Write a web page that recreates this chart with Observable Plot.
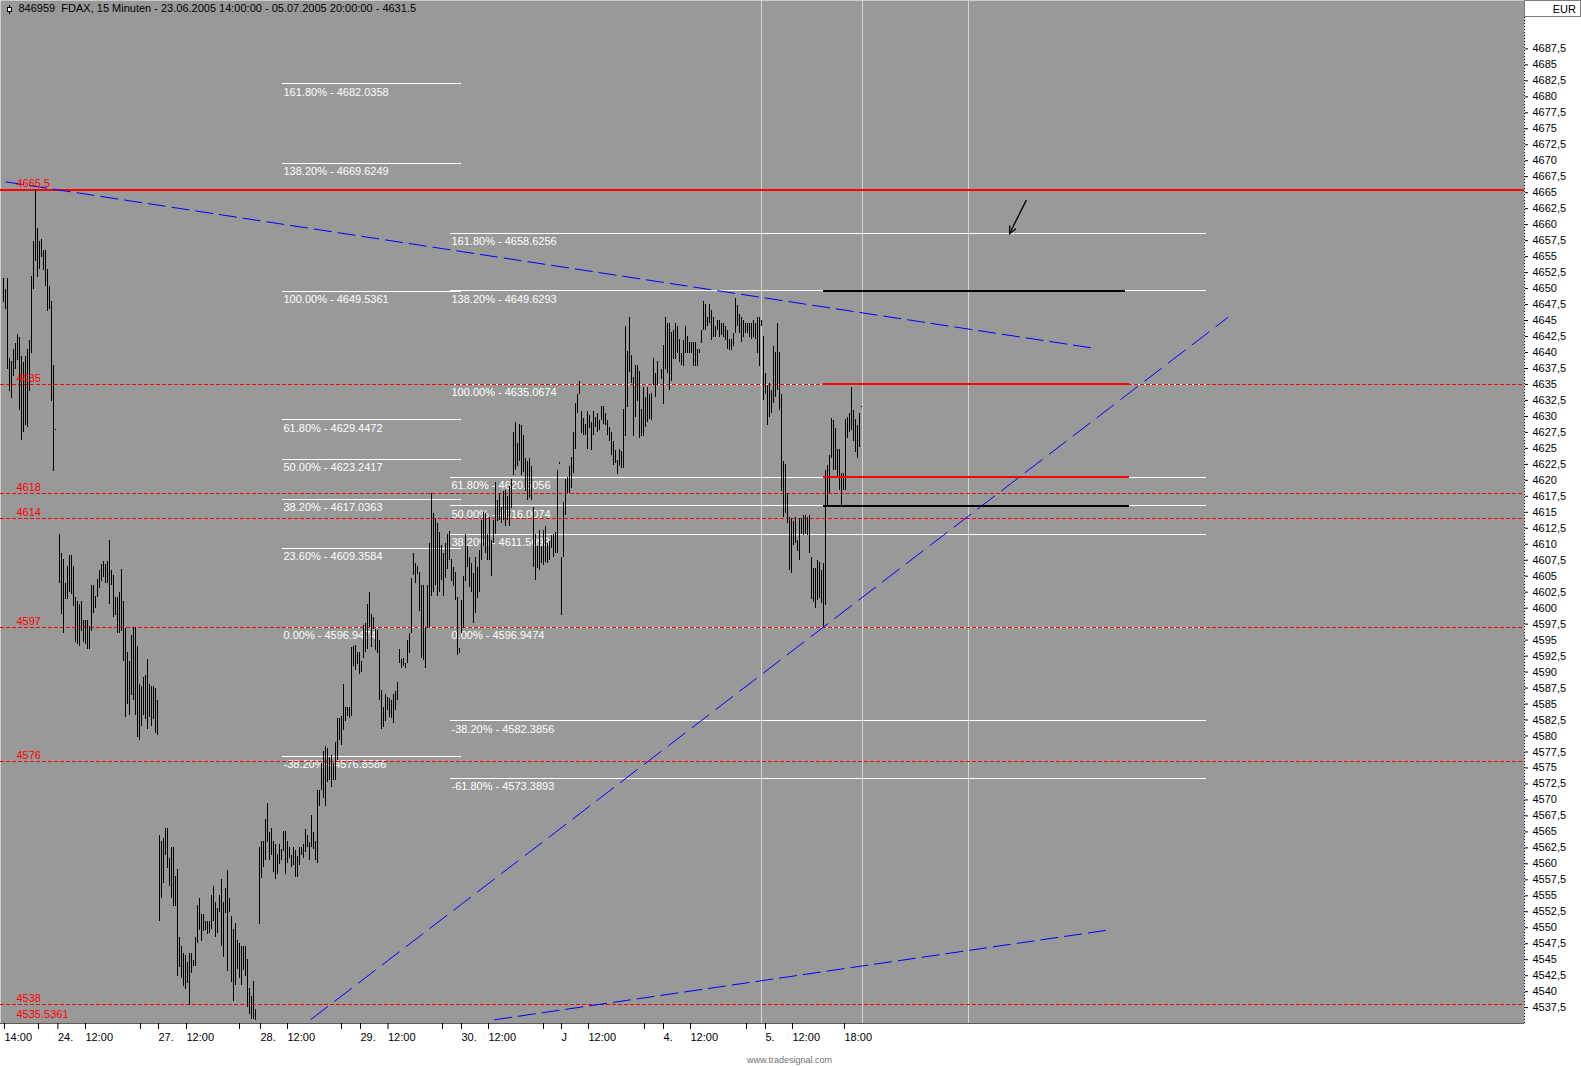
<!DOCTYPE html>
<html><head><meta charset="utf-8">
<script src="https://cdn.jsdelivr.net/npm/d3@7"></script>
<script src="https://cdn.jsdelivr.net/npm/@observablehq/plot@0.6"></script>
<style>
html,body{margin:0;padding:0;background:#fff;}
#chart svg{display:block}
</style></head><body><div id="chart"></div>
<script>
// ---- 15-minute bars (high / low) per trading day; slot = bar index on the time axis ----
const dayStarts = [0, 28, 78, 128, 178, 228, 278, 329, 380]; // 23.6, 24.6, 27.6, 28.6, 29.6, 30.6, 1.7, 4.7, 5.7
const hi23 = [4651.5,4649.9,4651.5,4639.0,4638.6,4640.5,4641.4,4642.8,4642.3,4639.4,4638.5,4639.4,4640.5,4641.9,4651.9,4657.4,4665.5,4659.4,4657.4,4657.6,4656.0,4655.9,4653.0,4650.3,4647.9,4637.9,4628.0];
const lo23 = [4647.8,4646.8,4637.3,4633.9,4632.8,4636.3,4637.3,4638.8,4630.9,4626.3,4627.5,4628.6,4628.3,4633.9,4639.8,4649.9,4654.3,4651.8,4653.0,4654.8,4652.9,4650.3,4646.4,4646.8,4632.4,4621.4,4627.8];
const hi24 = [4611.6,4608.6,4607.6,4603.9,4606.5,4608.2,4608.2,4606.5,4601.7,4601.1,4600.5,4601.1,4598.0,4598.0,4598.0,4597.1,4603.6,4603.6,4601.9,4604.5,4605.9,4606.8,4607.3,4606.8,4607.3,4610.6,4605.9,4605.1,4601.7,4601.7,4602.5,4606.0,4601.1,4596.8,4593.1,4591.7,4595.7,4596.9,4596.9,4594.0,4588.0,4587.7,4589.2,4589.5,4592.0,4588.0,4587.7,4587.7,4587.5,4585.5];
const lo24 = [4603.9,4599.0,4596.0,4601.4,4601.4,4602.5,4602.2,4600.2,4594.6,4594.3,4594.0,4596.3,4594.6,4594.3,4593.5,4593.5,4596.3,4599.1,4600.0,4601.7,4603.1,4604.2,4604.8,4603.9,4603.9,4600.5,4603.6,4598.5,4598.8,4596.0,4596.0,4596.3,4591.7,4582.9,4584.9,4583.2,4586.3,4585.5,4583.2,4579.8,4579.3,4581.5,4583.2,4582.6,4581.0,4582.9,4581.5,4582.6,4580.4,4580.1];
const hi27 = [4564.5,4563.5,4563.9,4565.5,4565.5,4560.9,4562.5,4562.5,4558.0,4559.1,4548.5,4547.1,4546.0,4545.7,4544.5,4546.0,4546.0,4544.9,4548.4,4553.5,4554.5,4552.0,4552.0,4550.9,4551.0,4551.0,4555.0,4556.5,4554.0,4553.0,4555.0,4557.5,4553.9,4556.1,4559.0,4554.6,4551.7,4549.8,4550.6,4548.0,4547.6,4547.1,4547.1,4547.0,4545.0,4540.5,4539.2,4541.6,4537.2];
const lo27 = [4550.9,4554.5,4557.0,4561.3,4559.2,4556.4,4554.5,4553.3,4553.3,4542.4,4543.8,4542.0,4540.8,4540.4,4541.2,4537.9,4542.9,4543.9,4543.9,4547.5,4549.6,4547.9,4549.4,4549.5,4548.9,4549.1,4549.7,4550.9,4548.4,4549.1,4552.4,4547.0,4545.4,4552.2,4543.1,4552.4,4541.5,4538.4,4541.0,4543.4,4542.0,4541.0,4543.3,4542.4,4537.5,4536.5,4535.6,4535.6,4535.5];
const hi28 = [4562.5,4563.5,4563.5,4567.0,4569.5,4564.9,4565.5,4563.5,4563.1,4561.4,4563.1,4562.2,4565.1,4565.1,4563.5,4562.5,4561.3,4562.6,4562.1,4561.1,4562.5,4562.5,4563.1,4565.3,4564.5,4563.4,4567.6,4564.9,4563.5,4571.5,4571.5,4575.7,4577.5,4578.3,4578.0,4576.7,4577.0,4575.7,4579.0,4582.7,4582.7,4583.0,4588.1,4584.4,4584.5,4584.5,4593.9,4594.0,4594.2,4593.1];
const lo28 = [4550.5,4557.7,4559.5,4560.5,4563.4,4560.5,4561.3,4558.7,4557.5,4558.4,4559.9,4560.5,4561.9,4558.4,4560.0,4560.9,4559.5,4559.7,4557.9,4557.9,4559.7,4561.3,4560.9,4561.8,4562.5,4560.5,4562.6,4562.3,4560.5,4560.0,4568.9,4571.5,4570.2,4568.9,4572.8,4573.0,4572.0,4573.0,4573.0,4576.2,4579.3,4578.5,4580.9,4582.3,4583.0,4582.7,4583.0,4590.9,4590.3,4591.2];
const hi29 = [4593.0,4591.6,4597.3,4597.6,4600.6,4602.4,4599.0,4598.6,4596.6,4596.5,4595.0,4587.1,4584.5,4586.5,4586.1,4585.8,4585.6,4586.5,4586.9,4588.4,4593.6,4591.9,4592.1,4591.3,4595.0,4596.0,4604.6,4608.5,4607.0,4606.5,4605.6,4603.6,4603.6,4597.0,4603.6,4610.1,4618.0,4614.8,4614.1,4613.2,4611.9,4609.8,4608.5,4610.1,4611.6,4612.0,4607.6,4606.4,4605.6,4601.7];
const lo29 = [4589.6,4590.0,4592.1,4593.1,4593.6,4597.0,4593.9,4596.6,4593.4,4592.9,4585.6,4581.0,4581.4,4582.3,4584.0,4582.9,4582.7,4581.9,4584.0,4585.6,4591.3,4590.5,4590.8,4590.5,4591.4,4592.9,4596.0,4605.1,4603.8,4605.3,4599.4,4592.1,4591.8,4590.5,4596.8,4597.0,4601.8,4602.5,4603.6,4601.8,4602.4,4604.3,4601.8,4604.6,4606.0,4607.5,4604.1,4603.4,4601.2,4592.6];
const hi30 = [4593.7,4601.2,4604.9,4611.6,4609.6,4608.0,4607.0,4605.4,4608.0,4606.4,4609.0,4613.7,4615.0,4614.8,4611.6,4614.2,4610.6,4613.7,4619.7,4616.9,4617.9,4615.8,4618.2,4618.4,4617.4,4619.0,4620.2,4627.5,4629.1,4625.7,4628.8,4628.6,4627.0,4623.4,4622.9,4623.4,4622.1,4615.8,4611.6,4609.6,4612.2,4609.6,4612.2,4612.7,4610.1,4610.4,4611.4,4611.6,4611.9,4621.5];
const lo30 = [4592.9,4596.0,4596.8,4604.1,4606.4,4603.3,4602.5,4597.6,4599.1,4601.5,4602.5,4607.5,4609.6,4608.5,4607.5,4607.5,4604.9,4610.1,4611.6,4613.5,4613.7,4613.2,4613.7,4612.7,4613.7,4612.7,4615.6,4620.8,4621.6,4622.1,4622.9,4620.8,4621.3,4618.2,4616.9,4617.1,4616.9,4606.4,4604.3,4606.2,4605.9,4607.0,4606.7,4607.2,4607.0,4607.5,4609.3,4608.0,4608.5,4608.5];
const hiJ = [4622.8,4608.0,4616.6,4620.2,4620.5,4622.1,4623.6,4627.5,4632.0,4633.5,4635.5,4630.7,4629.6,4628.8,4630.7,4630.2,4629.1,4630.7,4629.9,4630.4,4629.4,4631.5,4631.5,4630.4,4629.4,4628.3,4627.5,4626.1,4624.6,4623.1,4624.9,4624.5,4631.1,4644.1,4640.1,4645.5,4639.5,4636.1,4637.9,4637.9,4637.1,4631.1,4634.6,4633.0,4634.6,4633.5,4633.6,4639.0,4636.7,4638.6];
const loJ = [4622.4,4598.9,4608.0,4614.5,4617.9,4617.9,4618.7,4621.0,4624.9,4630.4,4633.5,4627.3,4627.0,4627.0,4624.9,4628.1,4624.7,4627.0,4628.3,4627.5,4627.8,4629.4,4628.8,4628.6,4627.0,4626.0,4623.9,4622.3,4622.6,4620.9,4622.1,4621.9,4621.9,4626.9,4631.4,4636.9,4635.1,4626.9,4629.9,4632.4,4626.5,4626.9,4626.9,4628.3,4629.0,4629.5,4629.4,4634.8,4632.9,4634.8];
const hi4 = [4637.4,4641.1,4645.5,4644.6,4644.6,4643.2,4643.5,4644.5,4644.1,4642.0,4639.9,4641.9,4644.1,4642.5,4641.6,4641.6,4641.6,4641.6,4640.5,4640.5,4643.5,4647.9,4647.5,4645.5,4647.5,4646.5,4645.5,4644.1,4645.0,4645.0,4644.6,4644.6,4644.1,4643.5,4642.0,4642.0,4643.0,4648.4,4647.3,4646.0,4645.5,4645.0,4644.6,4644.6,4644.6,4644.6,4645.0,4644.6,4645.5,4645.5,4645.0];
const lo4 = [4635.7,4631.9,4637.3,4636.7,4634.0,4635.4,4638.9,4638.9,4639.9,4638.5,4637.9,4637.8,4639.9,4639.9,4639.9,4639.9,4637.8,4637.8,4637.8,4639.9,4641.4,4643.4,4643.5,4644.0,4644.5,4641.9,4642.4,4642.4,4643.4,4642.4,4642.7,4642.4,4641.9,4640.4,4640.3,4640.3,4640.9,4642.9,4644.0,4642.9,4641.5,4642.4,4642.9,4642.9,4642.4,4642.0,4642.4,4642.0,4639.9,4637.8,4644.0];
const hi5 = [4642.5,4636.7,4634.9,4635.1,4634.1,4641.0,4640.0,4644.5,4640.0,4633.5,4623.0,4622.4,4617.9,4614.2,4614.0,4613.5,4614.2,4610.6,4614.0,4614.0,4614.5,4614.5,4614.2,4614.5,4608.0,4606.2,4606.2,4607.5,4607.2,4605.9,4607.0,4621.5,4622.3,4623.9,4629.6,4629.4,4628.1,4624.9,4624.9,4621.0,4621.0,4629.5,4629.9,4630.4,4634.5,4631.0,4629.5,4628.6,4630.5,4631.6];
const lo5 = [4632.5,4633.5,4628.5,4629.9,4630.4,4632.0,4633.0,4634.0,4630.9,4618.2,4614.2,4614.8,4613.2,4605.9,4605.5,4609.8,4610.1,4608.8,4607.5,4611.6,4611.4,4611.5,4611.4,4608.5,4601.3,4600.9,4599.9,4601.2,4601.5,4600.7,4597.0,4600.4,4616.1,4617.9,4623.4,4621.5,4621.5,4620.5,4618.4,4616.1,4618.4,4618.4,4626.5,4627.5,4627.8,4626.0,4624.4,4623.4,4625.2,4631.4];

// ---- horizontal support / resistance levels ----
const solidLevels = [4665.5];
const dashedLevels = [4635, 4618, 4614, 4597, 4576, 4538];
const levelLabels = ["4665.5", "4635", "4618", "4614", "4597", "4576", "4538", "4535.5361"];
const levelLabelValues = [4665.5, 4635, 4618, 4614, 4597, 4576, 4538, 4535.5361];

// ---- Fibonacci sets ----
const fibLeftPct = [161.8, 138.2, 100, 61.8, 50, 38.2, 23.6, 0, -38.2];
const fibLeftVal = [4682.0358, 4669.6249, 4649.5361, 4629.4472, 4623.2417, 4617.0363, 4609.3584, 4596.9474, 4576.8586];
const fibLeftSpan = [139.5, 228.85];
const fibRightPct = [161.8, 138.2, 100, 61.8, 50, 38.2, 0, -38.2, -61.8];
const fibRightVal = [4658.6256, 4649.6293, 4635.0674, 4620.5056, 4616.0074, 4611.5093, 4596.9474, 4582.3856, 4573.3893];
const fibRightSpan = [223.5, 601.5];

// ---- thick target lines (value, colour, end slot) ----
const targetVal = [4649.6293, 4635.0674, 4620.5056, 4616.0074];
const targetColor = ["black", "red", "red", "black"];
const targetStart = 409.75;
const targetEnd = [561, 563, 563, 563];

// ---- trend lines (slot, price): falling resistance, rising support, lower support ----
const trendX1 = [1, 153.5, 245.35];
const trendY1 = [4666.7, 4535.6, 4535.6];
const trendX2 = [543.85, 612.35, 551.5];
const trendY2 = [4640.73, 4645.52, 4549.6];
const trendDash = ["18,6", "22,8", "18,6"];

// ---- vertical marker lines, arrow ----
const vLineSlots = [379.15, 429.65, 482.5];
const arrowFrom = [511.35, 4663.8];
const arrowTo = [503, 4658.57];

// ---- axes ----
const xTickSlots = [0, 17, 26.7, 40.5, 68, 77, 91, 117.5, 128, 141.5, 168.5, 178, 191.75, 219, 228.5, 242, 269.5, 278.5, 292, 320, 329.5, 343, 371, 380.5, 394, 420];
const xTickLabels = ["14:00", "", "24.", "12:00", "", "27.", "12:00", "", "28.", "12:00", "", "29.", "12:00", "", "30.", "12:00", "", "J", "12:00", "", "4.", "12:00", "", "5.", "12:00", "18:00"];
const yTickValues = [4537.5,4540,4542.5,4545,4547.5,4550,4552.5,4555,4557.5,4560,4562.5,4565,4567.5,4570,4572.5,4575,4577.5,4580,4582.5,4585,4587.5,4590,4592.5,4595,4597.5,4600,4602.5,4605,4607.5,4610,4612.5,4615,4617.5,4620,4622.5,4625,4627.5,4630,4632.5,4635,4637.5,4640,4642.5,4645,4647.5,4650,4652.5,4655,4657.5,4660,4662.5,4665,4667.5,4670,4672.5,4675,4677.5,4680,4682.5,4685,4687.5];

const titleText = "846959\u00a0 FDAX, 15 Minuten - 23.06.2005 14:00:00 - 05.07.2005 20:00:00 - 4631.5";
const footerText = "www.tradesignal.com";

// ---- build tables ----
const highs = [hi23, hi24, hi27, hi28, hi29, hi30, hiJ, hi4, hi5];
const lows = [lo23, lo24, lo27, lo28, lo29, lo30, loJ, lo4, lo5];
const bars = [];
dayStarts.forEach((s, d) => highs[d].forEach((h, j) => bars.push({slot: s + j, hi: h, lo: lows[d][j]})));

const fibRows = [
  ...fibLeftVal.map((v, i) => ({v, x1: fibLeftSpan[0], x2: fibLeftSpan[1], t: fibLeftPct[i].toFixed(2) + "% - " + v.toFixed(4)})),
  ...fibRightVal.map((v, i) => ({v, x1: fibRightSpan[0], x2: fibRightSpan[1], t: fibRightPct[i].toFixed(2) + "% - " + v.toFixed(4)}))
];
const targets = targetVal.map((v, i) => ({v, c: targetColor[i], x1: targetStart, x2: targetEnd[i]}));
const trends = trendX1.map((x, i) => ({x1: x, y1: trendY1[i], x2: trendX2[i], y2: trendY2[i], dash: trendDash[i]}));
const labels = levelLabels.map((t, i) => ({t, v: levelLabelValues[i]}));
const labelMap = new Map(xTickSlots.map((s, i) => [s, xTickLabels[i]]));

const X_DOMAIN = [-1.5, 760.5];
const Y_DOMAIN = [4535.02, 4695.07];
const FONT = "'Liberation Sans', Arial, sans-serif";

const trendMarks = trends.map(t => Plot.link([t], {x1: "x1", y1: "y1", x2: "x2", y2: "y2",
  stroke: "#0000ff", strokeWidth: 1, strokeDasharray: t.dash, clip: true}));

const chart = Plot.plot({
  width: 1581, height: 1067,
  marginLeft: 0, marginRight: 57, marginTop: 0, marginBottom: 44,
  x: {domain: X_DOMAIN, axis: null},
  y: {domain: Y_DOMAIN, axis: null},
  style: {background: "#ffffff", fontFamily: FONT, fontSize: "11px", color: "black", overflow: "visible"},
  marks: [
    Plot.frame({fill: "#999999", stroke: null}),
    Plot.ruleX(vLineSlots, {x: d => d, stroke: "#d6d6d6", strokeWidth: 1, shapeRendering: "crispEdges"}),
    Plot.ruleY(fibRows, {y: "v", x1: "x1", x2: "x2", stroke: "white", strokeWidth: 1, shapeRendering: "crispEdges"}),
    Plot.text(fibRows, {x: "x1", y: "v", text: "t", fill: "white", textAnchor: "start", lineAnchor: "top", dx: 1, dy: 4, fontSize: 11}),
    Plot.ruleY(dashedLevels, {y: d => d, stroke: "#ff0000", strokeWidth: 1, strokeDasharray: "4,2", shapeRendering: "crispEdges"}),
    Plot.ruleY(solidLevels, {y: d => d, stroke: "#ff0000", strokeWidth: 2, shapeRendering: "crispEdges"}),
    ...trendMarks,
    Plot.ruleX(bars, {x: "slot", y1: "lo", y2: "hi", stroke: "black", strokeWidth: 1, shapeRendering: "crispEdges", clip: true}),
    Plot.ruleY(targets, {y: "v", x1: "x1", x2: "x2", stroke: "c", strokeWidth: 2, shapeRendering: "crispEdges"}),
    Plot.arrow([{x1: arrowFrom[0], y1: arrowFrom[1], x2: arrowTo[0], y2: arrowTo[1]}], {x1: "x1", y1: "y1", x2: "x2", y2: "y2", stroke: "black", strokeWidth: 1.3, headLength: 9, headAngle: 50}),
    Plot.text(labels, {y: "v", text: "t", frameAnchor: "left", dx: 16, dy: -2.5, lineAnchor: "bottom", textAnchor: "start", fill: "#ff0000", fontSize: 11}),
    Plot.text([titleText], {frameAnchor: "top-left", dx: 18, dy: 4, lineAnchor: "top", textAnchor: "start", fill: "black", fontSize: 11}),
    Plot.text([footerText], {frameAnchor: "bottom", dx: 27, dy: 39, fill: "#707070", fontSize: 9, lineAnchor: "bottom"}),
    Plot.ruleY([Y_DOMAIN[0]], {stroke: "#5a5a5a", strokeWidth: 1}),
    Plot.ruleX([X_DOMAIN[1]], {y1: Y_DOMAIN[0], y2: 4692.6, stroke: "black", strokeDasharray: "1,2", strokeWidth: 1}),
    Plot.axisY(yTickValues, {anchor: "right", tickSize: 3, tickPadding: 5, textAnchor: "start",
      tickFormat: d => String(d).replace(".", ","), fontSize: 11, stroke: "black", fill: "black"}),
    Plot.axisX(xTickSlots, {anchor: "bottom", tickSize: 6, tickPadding: 4, textAnchor: "start", dx: 1,
      tickFormat: d => labelMap.get(d), fontSize: 11, stroke: "black", fill: "black"})
  ]
});

// Chrome: currency box and series icon
const svg = d3.select(chart);
svg.append("rect").attr("x", 1524.5).attr("y", 0.5).attr("width", 56).attr("height", 16)
  .attr("fill", "white").attr("stroke", "#7a7a7a");
svg.append("text").attr("x", 1576).attr("y", 12.5).attr("text-anchor", "end")
  .attr("font-family", FONT).attr("font-size", 11).attr("fill", "black").text("EUR");
svg.append("line").attr("x1", 9.5).attr("x2", 9.5).attr("y1", 5).attr("y2", 14).attr("stroke", "black");
svg.append("rect").attr("x", 7.5).attr("y", 7.5).attr("width", 4).attr("height", 4)
  .attr("fill", "white").attr("stroke", "black");

document.getElementById("chart").appendChild(chart);
</script>
</body></html>
